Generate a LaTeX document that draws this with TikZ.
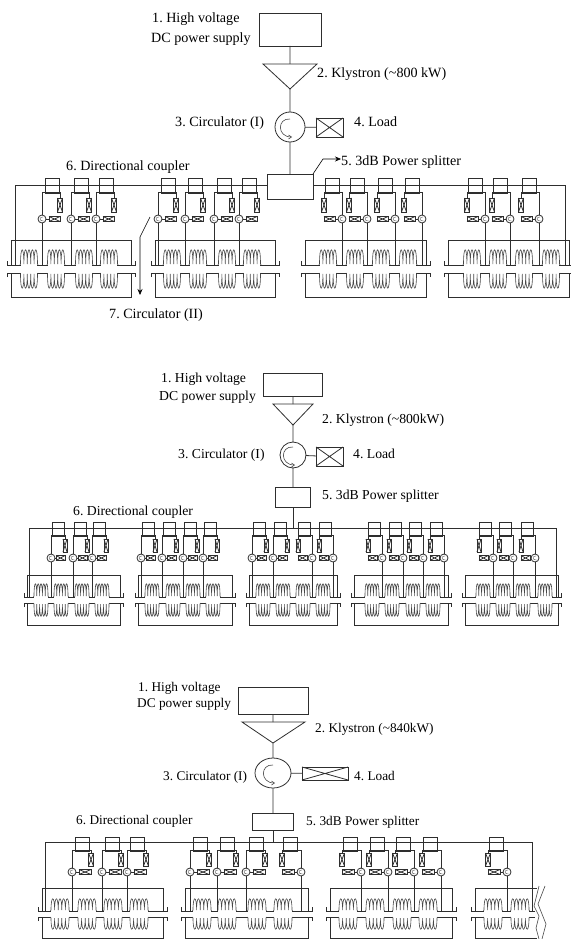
\documentclass[tikz,border=0pt]{standalone}
\usepackage{fontspec}
\setmainfont{Liberation Serif}
\usetikzlibrary{arrows.meta,shapes.geometric}
\begin{document}
\frenchspacing
\begin{tikzpicture}[x=1pt,y=-1pt,
  wire/.style={line width=0.8pt,black!82},
  coilline/.style={line width=0.6pt,black!72},
  unit/.style={draw,wire,inner sep=0pt,outer sep=0pt},
  ringnode/.style={unit,circle,fill=white},
  laba/.style={anchor=base west,inner sep=0pt,font=\fontsize{14.1}{16}\selectfont},
  labb/.style={anchor=base west,inner sep=0pt,font=\fontsize{13.7}{16}\selectfont},
  labc/.style={anchor=base west,inner sep=0pt,font=\fontsize{13.3}{16}\selectfont}]
\useasboundingbox (0,0) rectangle (570,939);
\newcommand{\xbox}[5]{
  \node[unit,minimum width=#4 pt,minimum height=#5 pt] (#1) at ({#2},#3) {};
  \draw[wire] (#1.north west) -- (#1.south east) (#1.north east) -- (#1.south west);
}
\newcommand{\feed}[2]{
  \node[unit,minimum width=\bxw pt,minimum height=\bxh pt] (\secname#1box) at ({#1+#2*\bxc},\bxy) {};
  \xbox{\secname#1load}{#1+#2*\lox}{\loy}{\low}{\loh}
  \node[ringnode,minimum size=8pt] (\secname#1ring) at (#1,\ringy) {};
  \xbox{\secname#1tail}{#1+#2*\tlx}{\ringy}{\tlw}{5}
  \coordinate (\secname#1bend) at ({#1+#2*\lox},\lby);
  \coordinate (\secname#1tap) at (#1,\yup);
  \draw[wire] (\secname#1ring.north) |- (\secname#1bend) -- (\secname#1load.north);
  \draw[wire] (\secname#1ring.south) -- (\secname#1tap);
  \draw[wire] (\secname#1ring) -- (\secname#1tail);
  \draw[line width=0.35pt,black!70] (#1+1,\ringy-2) .. controls (#1-3,\ringy-2.5) and (#1-3,\ringy+2.5) .. (#1+1.5,\ringy+2);
}
\newcommand{\cavcoil}[3]{
  \pgfmathsetmacro\hstep{\coilw/5}
  \fill[white] (#1-\coilw/2+0.4,#2-1) rectangle (#1+\coilw/2-0.4,#2+1);
  \draw[coilline] (#1-\coilw/2-0.6,#2) -- (#1-\coilw/2,#2+#3*1)
    \foreach \k in {1,...,5} { .. controls (#1-\coilw/2+\k*\hstep-\hstep,#2+#3*\coilh*1.33) and (#1-\coilw/2+\k*\hstep,#2+#3*\coilh*1.33) .. (#1-\coilw/2+\k*\hstep,#2+#3*1) }
    -- (#1+\coilw/2+0.6,#2);
}
\newcommand{\cavlines}[2]{
  \draw[wire] (#1-\ovh,\yup-4) -- (#1-\ovh,\yup) -- (#2+\ovh,\yup) -- (#2+\ovh,\yup-4);
  \draw[wire] (#1-\ovh,\ylo+4) -- (#1-\ovh,\ylo) -- (#2+\ovh,\ylo) -- (#2+\ovh,\ylo+4);
  \draw[wire] (#1,\yup) -- (#1,\ytop) -- (#2,\ytop) -- (#2,\yup);
  \draw[wire] (#1,\ylo) -- (#1,\ybot) -- (#2,\ybot) -- (#2,\ylo);
}
\newcommand{\cavcoils}[1]{
  \foreach \c in {#1} { \cavcoil{\c}{\yup}{-1} \cavcoil{\c}{\ylo}{1} }
}
\newcommand{\ringarrow}[1]{
  \draw[coilline,-{Straight Barb[length=3pt,width=4pt]}] ([shift={(0,-8)}]#1.center) .. controls ([shift={(-13,-9)}]#1.center) and ([shift={(-13,10)}]#1.center) .. ([shift={(2,10)}]#1.center);
}

\def\secname{a}\def\ytop{240}\def\yup{265}\def\ylo{273}\def\ybot{297}\def\ovh{4}\def\coilw{17}\def\coilh{15}
\def\bxc{10}\def\bxw{14}\def\bxy{185.5}\def\bxh{15}\def\lby{192}\def\lox{18}\def\low{5}\def\loy{205}\def\loh{14}
\def\ringy{219}\def\tlx{12.5}\def\tlw{11}
\node[unit,minimum width=62pt,minimum height=33pt] (apsu) at (290,29.5) {};
\coordinate (ak1) at (263,64); \coordinate (ak2) at (317,64); \coordinate (ak3) at (290,89); \coordinate (ak0) at (290,64);
\node[ringnode,minimum size=30pt] (aring) at (290,127) {};
\xbox{aload}{329.5}{127.5}{27}{19}
\node[unit,minimum width=46pt,minimum height=25pt] (asplit) at (290,186.5) {};
\draw[wire] (ak1) -- (ak2) -- (ak3) -- cycle;
\draw[wire] (apsu) -- (ak0) (ak3) -- (aring) (aring) -- (asplit) (aring) -- (aload);
\ringarrow{aring}
\coordinate (abl) at (15,265); \coordinate (abtl) at (15,185); \coordinate (abr) at (565,265); \coordinate (abtr) at (565,185);
\draw[wire] (abl) -- (abtl) -- (asplit.west |- abtl) (asplit.east |- abtr) -- (abtr) -- (abr);
\foreach \x/\d in {42/1,71/1,96/1,158/1,185/1,214/1,239/1,342/-1,367/-1,395/-1,422/-1,485/-1,510/-1,539/-1} {\feed{\x}{\d}}
\cavlines{11}{131}\cavcoils{29,56,84,109}
\cavlines{155}{275}\cavcoils{172,198,227,252}
\cavlines{305}{426}\cavcoils{328,355,381,408}
\cavlines{448}{569}\cavcoils{472,498,524,551}
\node[laba] (alab1) at (152,23) {1. High voltage};
\node[laba] (alab1b) at (151,43) {DC power supply};
\node[laba] (alab2) at (317,78) {2. Klystron (\textasciitilde800 kW)};
\node[laba] (alab3) at (175,127) {3. Circulator (I)};
\node[laba] (alab4) at (354,127) {4. Load};
\node[laba] (alab5) at (341,165) {5. 3dB Power splitter};
\node[laba] (alab6) at (66,170) {6. Directional coupler};
\node[laba] (alab7) at (109,318) {7. Circulator (II)};
\coordinate (apa) at (323,159);
\draw[coilline,-{Stealth[length=6pt,width=5pt]},black] (asplit.north east) -- (apa) -- (alab5.west |- apa);
\coordinate (apb) at (150,217); \coordinate (apc) at (140,237); \coordinate (apd) at (140,295);
\draw[coilline,-{Stealth[length=6pt,width=5pt]},black] (apb) -- (apc) -- (apd);

\def\secname{b}\def\ytop{575}\def\yup{597}\def\ylo{603}\def\ybot{625}\def\ovh{3}\def\coilw{14}\def\coilh{13}
\def\bxc{7.5}\def\bxw{12}\def\bxy{529}\def\bxh{14}\def\lby{535}\def\lox{14}\def\low{4}\def\loy{545.5}\def\loh{13}
\def\ringy{558}\def\tlx{9.5}\def\tlw{9}
\node[unit,minimum width=59pt,minimum height=23pt] (bpsu) at (292.5,384.5) {};
\coordinate (bk1) at (273,404); \coordinate (bk2) at (313,404); \coordinate (bk3) at (293,425); \coordinate (bk0) at (293,404);
\node[ringnode,minimum size=26pt] (bring) at (293,455) {};
\xbox{bload}{329.5}{456.5}{27}{19}
\node[unit,minimum width=35pt,minimum height=20pt] (bsplit) at (292.5,497) {};
\draw[wire] (bk1) -- (bk2) -- (bk3) -- cycle;
\draw[wire] (bpsu.south -| bk0) -- (bk0) (bk3) -- (bring) (bring) -- (bring |- bsplit.north) (bring) -- (bload);
\ringarrow{bring}
\coordinate (bbl) at (29,597); \coordinate (bbtl) at (29,528); \coordinate (bbr) at (556,597); \coordinate (bbtr) at (556,528);
\draw[wire] (bbl) -- (bbtl) -- (bbtr) -- (bbr);
\draw[wire] (bring |- bsplit.south) -- (bring |- bbtl);
\foreach \x/\d in {51/1,73/1,92/1,141/1,162/1,183/1,203/1,252/1,273/1,312/-1,333/-1,382/-1,403/-1,423/-1,444/-1,493/-1,513/-1,535/-1} {\feed{\x}{\d}}
\cavlines{27}{120}\cavcoils{41,61,82,102}
\cavlines{138}{232}\cavcoils{152,173,193,213}
\cavlines{249}{337}\cavcoils{263,283,303,323}
\cavlines{354}{448}\cavcoils{372,392,413,433}
\cavlines{465}{558}\cavcoils{483,503,523,545}
\node[labb] (blab1) at (161,382) {1. High voltage};
\node[labb] (blab1b) at (159,400) {DC power supply};
\node[labb] (blab2) at (322,423) {2. Klystron (\textasciitilde800kW)};
\node[labb] (blab3) at (178,458) {3. Circulator (I)};
\node[labb] (blab4) at (353,458) {4. Load};
\node[labb] (blab5) at (322,499) {5. 3dB Power splitter};
\node[labb] (blab6) at (73,515) {6. Directional coupler};

\def\secname{c}\def\ytop{888}\def\yup{911}\def\ylo{917}\def\ybot{938}\def\ovh{4}\def\coilw{18}\def\coilh{12}
\def\bxc{10.5}\def\bxw{14.5}\def\bxy{844}\def\bxh{14}\def\lby{850}\def\lox{19}\def\low{5}\def\loy{859.5}\def\loh{13}
\def\ringy{872}\def\tlx{13}\def\tlw{12}
\node[unit,minimum width=70pt,minimum height=27pt] (cpsu) at (273,700.5) {};
\coordinate (ck1) at (242,722); \coordinate (ck2) at (305,722); \coordinate (ck3) at (273,743); \coordinate (ck0) at (273,722);
\node[unit,ellipse,fill=white,minimum width=36pt,minimum height=30pt] (cring) at (273,773) {};
\xbox{cload}{325}{773.5}{46}{13}
\node[unit,minimum width=41pt,minimum height=17pt] (csplit) at (272.5,821.5) {};
\draw[wire] (ck1) -- (ck2) -- (ck3) -- cycle;
\draw[wire] (cpsu) -- (ck0) (ck3) -- (cring) (cring) -- (cring |- csplit.north) (cring) -- (cload);
\ringarrow{cring}
\coordinate (cbl) at (45,911); \coordinate (cbtl) at (45,842); \coordinate (cbr) at (532,911); \coordinate (cbtr) at (532,842);
\draw[wire] (cbl) -- (cbtl) -- (cbtr) -- (cbr);
\draw[wire] (cring |- csplit.south) -- (cring |- cbtl);
\foreach \x/\d in {72/1,102/1,127/1,190/1,217/1,246/1,301/-1,361/-1,388/-1,414/-1,441/-1,507/-1} {\feed{\x}{\d}}
\cavlines{42}{163}\cavcoils{60,87,113,139}
\cavlines{185}{308}\cavcoils{202,227,257,283}
\cavlines{330}{452}\cavcoils{348,375,402,428}
\draw[wire] (471,907) -- (471,911) -- (535,911);
\draw[wire] (471,921) -- (471,917) -- (535,917);
\draw[wire] (475,911) -- (475,888) -- (537,888);
\draw[wire] (475,917) -- (475,938) -- (537,938);
\cavcoils{493,520}
\draw[coilline] (539,886) -- (534,906) -- (539,916) -- (536,928) -- (539,939);
\draw[coilline] (545,886) -- (538,904) -- (546,924) -- (542,939);
\node[labc] (clab1) at (138,691) {1. High voltage};
\node[labc] (clab1b) at (137,707) {DC power supply};
\node[labc] (clab2) at (315,732) {2. Klystron (\textasciitilde840kW)};
\node[labc] (clab3) at (163,780) {3. Circulator (I)};
\node[labc] (clab4) at (354,780) {4. Load};
\node[labc] (clab5) at (306,825) {5. 3dB Power splitter};
\node[labc] (clab6) at (76,824) {6. Directional coupler};
\end{tikzpicture}
\end{document}
